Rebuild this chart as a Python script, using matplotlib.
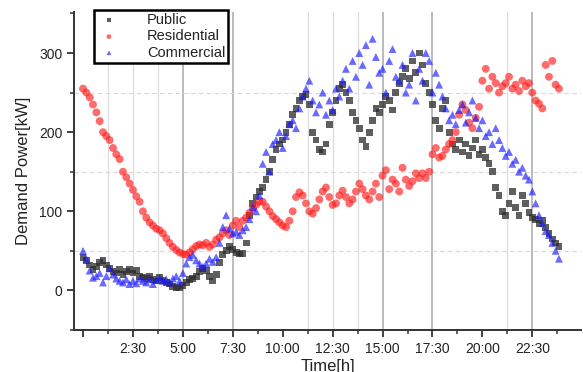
import numpy as np
import matplotlib
matplotlib.use("Agg")
import matplotlib.pyplot as plt
from matplotlib.ticker import MultipleLocator, FixedLocator

# demand power [kW], one value every 10 minutes, 6 per row = 1 hour
public = [
    42, 38, 32, 26, 30, 35,
    38, 32, 28, 24, 22, 26,
    20, 24, 26, 22, 25, 18,
    17, 15, 18, 14, 12, 16,
    13, 10, 8, 5, 4, 3,
    6, 10, 14, 15, 18, 24,
    28, 25, 18, 12, 20, 35,
    45, 50, 55, 52, 48, 46,
    47, 60, 95, 110, 118, 125,
    130, 140, 150, 165, 178, 185,
    190, 200, 210, 222, 230, 240,
    245, 248, 235, 200, 190, 178,
    175, 185, 210, 225, 240, 255,
    260, 250, 240, 225, 215, 205,
    190, 182, 200, 215, 230, 225,
    235, 245, 240, 228, 250, 262,
    270, 280, 268, 290, 275, 300,
    285, 262, 250, 235, 215, 205,
    230, 240, 200, 185, 178, 190,
    175, 185, 170, 180, 190, 172,
    178, 168, 160, 150, 130, 120,
    100, 95, 110, 125, 105, 95,
    120, 110, 98, 92, 90, 85,
    88, 80, 72, 65, 60, 55,
]

residential = [
    255, 250, 244, 235, 225, 214,
    200, 195, 190, 180, 172, 166,
    150, 143, 135, 127, 119, 112,
    100, 92, 86, 82, 78, 76,
    72, 66, 60, 55, 51, 48,
    46, 45, 48, 52, 56, 58,
    57, 60, 55, 58, 64, 67,
    72, 76, 70, 82, 88, 80,
    88, 92, 98, 104, 108, 112,
    112, 106, 100, 94, 90, 86,
    82, 80, 88, 100, 118, 124,
    120, 110, 100, 97, 104, 115,
    125, 130, 118, 108, 110, 120,
    126, 118, 110, 115, 125, 135,
    128, 120, 115, 125, 135, 118,
    145, 152, 128, 140, 135, 125,
    155, 140, 132, 138, 148, 142,
    148, 142, 150, 172, 180, 168,
    170, 178, 185, 190, 200, 222,
    235, 228, 212, 205, 218, 232,
    265, 280, 255, 270, 262, 250,
    258, 262, 270, 255, 260, 252,
    265, 258, 262, 250, 240, 236,
    230, 285, 270, 290, 260, 255,
]

commercial = [
    50, 40, 25, 16, 18, 22,
    10, 18, 28, 20, 15, 12,
    10, 14, 8, 12, 9, 15,
    12, 10, 14, 8, 13, 16,
    12, 14, 10, 15, 18, 12,
    22, 34, 42, 45, 38, 34,
    30, 34, 40, 36, 42, 60,
    80, 95, 78, 72, 74, 70,
    76, 80, 90, 105, 100, 120,
    160, 175, 150, 185, 190, 200,
    180, 195, 210, 215, 205, 230,
    245, 255, 265, 240, 225, 235,
    250, 222, 240, 228, 255, 245,
    265, 280, 255, 290, 270, 300,
    285, 310, 260, 318, 295, 275,
    280, 250, 290, 305, 270, 265,
    285, 250, 260, 300, 240, 280,
    265, 300, 290, 250, 275, 260,
    245, 230, 215, 222, 210, 228,
    235, 212, 225, 240, 218, 205,
    215, 195, 200, 185, 205, 190,
    180, 170, 175, 160, 165, 150,
    155, 145, 140, 125, 110, 95,
    85, 75, 70, 60, 50, 40,
]

tick_hours = [0, 2.5, 5, 7.5, 10, 12.5, 15, 17.5, 20, 22.5]
tick_labels = ["", "2:30", "5:00", "7:30", "10:00", "12:30", "15:00", "17:30", "20:00", "22:30"]

hours = np.arange(len(public)) / 6.0

plt.rcParams['font.family'] = ['Liberation Sans', 'DejaVu Sans']

fig = plt.figure(figsize=(5.83, 3.72), dpi=100)
ax = fig.add_axes([0.127, 0.113, 0.870, 0.855])

# background grid (vertical: light and darker ones, horizontal: dashed)
for h in [1.25, 2.5, 3.75, 11.25, 12.5, 13.75, 21.25]:
    ax.axvline(h, color='#dddddd', lw=0.9, zorder=0)
for h in [5, 7.5, 15, 17.5, 22.5]:
    ax.axvline(h, color='#a8a8a8', lw=1.1, zorder=0)
for v in [50, 150, 250]:
    ax.axhline(v, color='#d8d8d8', lw=0.8, ls=(0, (4, 3)), zorder=0)

ax.scatter(hours, public, marker='s', s=24, color='#2a2a2a', alpha=0.75,
           edgecolors='none', label='Public', zorder=3)
ax.scatter(hours, residential, marker='o', s=32, color='#ff1a1a', alpha=0.65,
           edgecolors='none', label='Residential', zorder=3)
ax.scatter(hours, commercial, marker='^', s=32, color='#1a1aff', alpha=0.65,
           edgecolors='none', label='Commercial', zorder=3)

ax.set_xlim(-0.45, 24.95)
ax.set_ylim(-50, 352)

ax.xaxis.set_major_locator(FixedLocator(tick_hours))
ax.set_xticklabels(tick_labels)
ax.xaxis.set_minor_locator(FixedLocator([1.25 + 2.5 * i for i in range(10)]))
ax.yaxis.set_major_locator(MultipleLocator(100))
ax.yaxis.set_minor_locator(MultipleLocator(50))

for side in ['top', 'right']:
    ax.spines[side].set_visible(False)
for side in ['left', 'bottom']:
    ax.spines[side].set_linewidth(1.4)
    ax.spines[side].set_color('#333333')

ax.tick_params(which='major', direction='out', length=5, width=1.3, color='#333333',
               labelsize=10, labelcolor='#222222')
ax.tick_params(which='minor', direction='out', length=3, width=1.1, color='#333333')

ax.set_xlabel('Time[h]', fontsize=12, color='#222222', labelpad=2)
ax.set_ylabel('Demand Power[kW]', fontsize=12, color='#222222', labelpad=6)

leg = ax.legend(loc='upper left', bbox_to_anchor=(0.04, 1.005), fontsize=10.5,
                frameon=True, fancybox=False, framealpha=1, edgecolor='black',
                borderpad=0.2, labelspacing=0.15, handletextpad=1.8,
                handlelength=1.6, borderaxespad=0, markerscale=0.6)
leg.get_frame().set_linewidth(1.8)
for t in leg.get_texts():
    t.set_color('#222222')

fig.savefig('out.png', dpi=100)
